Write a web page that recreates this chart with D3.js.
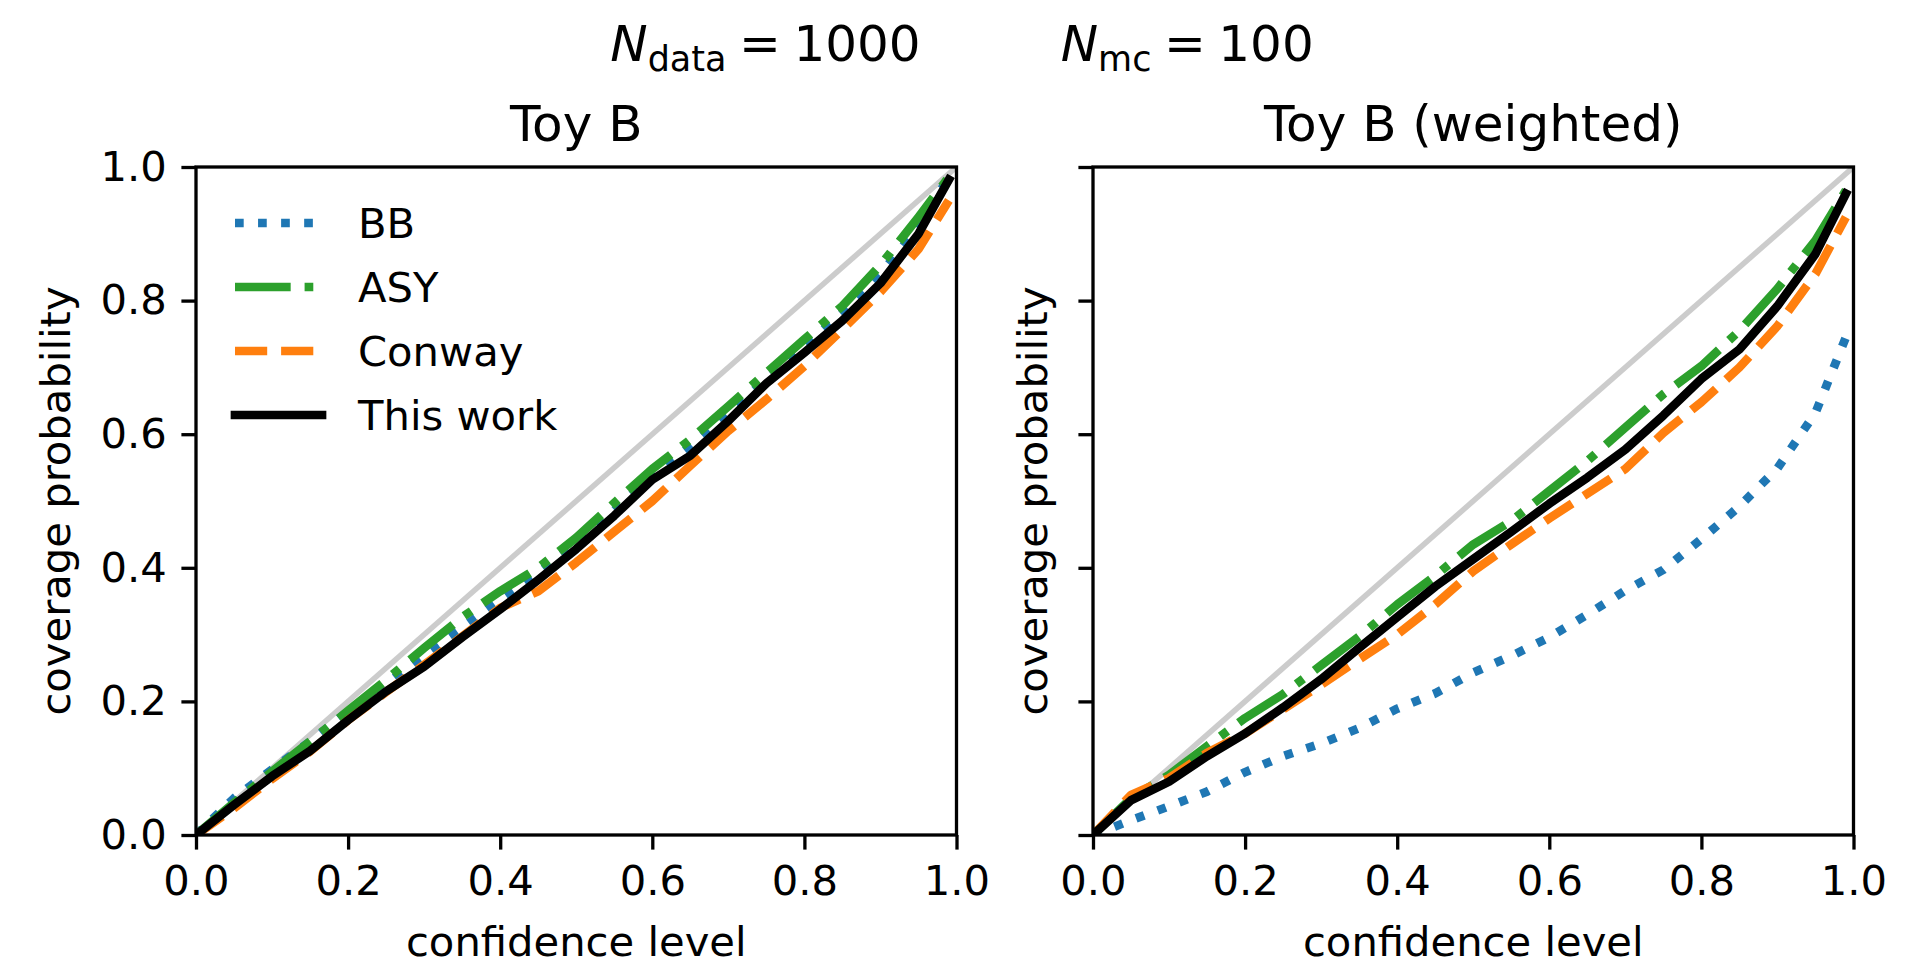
<!DOCTYPE html>
<html>
<head>
<meta charset="utf-8">
<title>Coverage</title>
<script src="https://cdn.jsdelivr.net/npm/d3@7"></script>
<style>
body { margin:0; background:#fff; }
text { font-family: "DejaVu Sans", sans-serif; fill:#000; }
</style>
</head>
<body>
<script>
// confidence levels (x) shared by all curves
var confLevels = [0, 0.05, 0.1, 0.15, 0.2, 0.25, 0.3, 0.35, 0.4, 0.45, 0.5,
                  0.55, 0.6, 0.65, 0.7, 0.75, 0.8, 0.85, 0.9, 0.95, 0.99];

// Toy B
var bbA     = [0, 0.055, 0.098, 0.14, 0.185, 0.225, 0.27, 0.31, 0.352, 0.392, 0.437, 0.486, 0.538, 0.582, 0.632, 0.682, 0.732, 0.782, 0.84, 0.91, 0.985];
var asyA    = [0, 0.048, 0.095, 0.14, 0.186, 0.232, 0.28, 0.326, 0.365, 0.4, 0.445, 0.497, 0.548, 0.592, 0.642, 0.692, 0.742, 0.792, 0.853, 0.925, 0.985];
var conwayA = [0, 0.04, 0.084, 0.125, 0.172, 0.214, 0.255, 0.297, 0.34, 0.365, 0.408, 0.454, 0.5, 0.553, 0.605, 0.652, 0.702, 0.757, 0.813, 0.877, 0.95];
var thisA   = [0, 0.045, 0.088, 0.126, 0.172, 0.215, 0.252, 0.296, 0.338, 0.382, 0.428, 0.478, 0.532, 0.568, 0.62, 0.676, 0.722, 0.77, 0.826, 0.9, 0.981];

// Toy B (weighted)
var bbB     = [0, 0.022, 0.043, 0.065, 0.094, 0.118, 0.137, 0.16, 0.189, 0.212, 0.243, 0.268, 0.296, 0.33, 0.366, 0.397, 0.443, 0.492, 0.549, 0.632, 0.745];
var asyB    = [0, 0.055, 0.09, 0.133, 0.175, 0.211, 0.254, 0.297, 0.345, 0.388, 0.435, 0.47, 0.515, 0.56, 0.61, 0.66, 0.702, 0.755, 0.818, 0.89, 0.965];
var conwayB = [0, 0.06, 0.085, 0.123, 0.152, 0.188, 0.225, 0.263, 0.3, 0.345, 0.395, 0.435, 0.474, 0.511, 0.548, 0.602, 0.648, 0.7, 0.762, 0.84, 0.925];
var thisB   = [0, 0.052, 0.08, 0.118, 0.152, 0.191, 0.233, 0.28, 0.326, 0.372, 0.413, 0.454, 0.496, 0.535, 0.577, 0.628, 0.683, 0.727, 0.792, 0.87, 0.96];

var seriesNames = ["BB", "ASY", "Conway", "This work"];
var panelTitles = ["Toy B", "Toy B (weighted)"];
var tickValues = [0, 0.2, 0.4, 0.6, 0.8, 1.0];

var W = 1920, H = 968,
    lw = 8.7,
    fs = 41.7,
    tickLen = 14.6,
    spineW = 3.3;

var styles = {
  "BB":        {color:"#1f77b4", dash:[1*lw, 1.65*lw].join(","), cap:"butt"},
  "ASY":       {color:"#2ca02c", dash:[6.4*lw, 1.6*lw, 1*lw, 1.6*lw].join(","), cap:"butt"},
  "Conway":    {color:"#ff7f0e", dash:[3.7*lw, 1.6*lw].join(","), cap:"butt"},
  "This work": {color:"#000000", dash:null, cap:"square"}
};

var panels = [
  {x0:196,  title:panelTitles[0], ylabels:true,  series:[bbA, asyA, conwayA, thisA], legend:true},
  {x0:1093, title:panelTitles[1], ylabels:false, series:[bbB, asyB, conwayB, thisB], legend:false}
];
var axW = 760.5, axTop = 167, axBottom = 835;

var svg = d3.select("body").append("svg").attr("width", W).attr("height", H);
svg.append("rect").attr("width", W).attr("height", H).attr("fill", "white");

// suptitle
var sup = svg.append("text").attr("x", 962).attr("y", 61).attr("text-anchor", "middle").attr("font-size", 50);
sup.append("tspan").attr("font-style", "italic").text("N");
sup.append("tspan").attr("font-size", 35).attr("dy", 10).text("data");
sup.append("tspan").attr("dy", -10).text("\u2005=\u20051000");
sup.append("tspan").attr("dx", 140).attr("font-style", "italic").text("N");
sup.append("tspan").attr("font-size", 35).attr("dy", 10).text("mc");
sup.append("tspan").attr("dy", -10).text("\u2005=\u2005100");

panels.forEach(function(p, pi){
  var x = d3.scaleLinear().domain([0, 1]).range([p.x0, p.x0 + axW]);
  var y = d3.scaleLinear().domain([0, 1]).range([axBottom, axTop]);
  var g = svg.append("g");

  svg.append("clipPath").attr("id", "clip" + pi).append("rect")
    .attr("x", p.x0).attr("y", axTop).attr("width", axW).attr("height", axBottom - axTop);

  var plot = g.append("g").attr("clip-path", "url(#clip" + pi + ")");

  // diagonal reference
  plot.append("path").attr("d", d3.line().x(function(d){ return x(d); }).y(function(d){ return y(d); })([0, 1]))
    .attr("stroke", "#cccccc").attr("stroke-width", 5.5).attr("fill", "none");

  var line = d3.line().x(function(d){ return x(d[0]); }).y(function(d){ return y(d[1]); });

  p.series.forEach(function(vals, si){
    var st = styles[seriesNames[si]];
    var pts = confLevels.map(function(c, i){ return [c, vals[i]]; });
    plot.append("path").attr("d", line(pts))
      .attr("fill", "none").attr("stroke", st.color).attr("stroke-width", lw)
      .attr("stroke-dasharray", st.dash).attr("stroke-linecap", st.cap)
      .attr("stroke-linejoin", "round");
  });

  // axes
  var xAxis = d3.axisBottom(x).tickValues(tickValues).tickFormat(d3.format(".1f"))
    .tickSizeInner(tickLen).tickSizeOuter(0).tickPadding(16);
  var yAxis = d3.axisLeft(y).tickValues(tickValues).tickFormat(p.ylabels ? d3.format(".1f") : "")
    .tickSizeInner(tickLen).tickSizeOuter(0).tickPadding(14.6);

  var gx = g.append("g").attr("transform", "translate(0," + axBottom + ")").call(xAxis);
  var gy = g.append("g").attr("transform", "translate(" + p.x0 + ",0)").call(yAxis);
  [gx, gy].forEach(function(a){
    a.select(".domain").remove();
    a.selectAll(".tick line").attr("stroke", "#000").attr("stroke-width", spineW);
    a.selectAll(".tick text").attr("font-size", fs).attr("font-family", "DejaVu Sans").attr("fill", "#000");
  });

  // spines
  g.append("rect").attr("x", p.x0).attr("y", axTop).attr("width", axW).attr("height", axBottom - axTop)
    .attr("fill", "none").attr("stroke", "#000").attr("stroke-width", spineW);

  // titles and labels
  g.append("text").attr("x", p.x0 + axW/2).attr("y", 141).attr("text-anchor", "middle")
    .attr("font-size", 50).text(p.title);
  g.append("text").attr("x", p.x0 + axW/2).attr("y", 956).attr("text-anchor", "middle")
    .attr("font-size", fs).text("confidence level");
  var ylx = p.ylabels ? 70 : 1047;
  g.append("text").attr("transform", "translate(" + ylx + "," + ((axTop + axBottom)/2) + ") rotate(-90)")
    .attr("text-anchor", "middle").attr("font-size", fs).text("coverage probability");

  // legend
  if (p.legend) {
    var lg = g.append("g");
    seriesNames.forEach(function(name, i){
      var st = styles[name];
      var cy = 223 + i*64;
      lg.append("line").attr("x1", p.x0 + 39).attr("x2", p.x0 + 126).attr("y1", cy).attr("y2", cy)
        .attr("stroke", st.color).attr("stroke-width", lw)
        .attr("stroke-dasharray", st.dash).attr("stroke-linecap", st.cap);
      lg.append("text").attr("x", p.x0 + 162).attr("y", cy).attr("dy", "0.36em")
        .attr("font-size", fs).text(name);
    });
  }
});
</script>
</body>
</html>
